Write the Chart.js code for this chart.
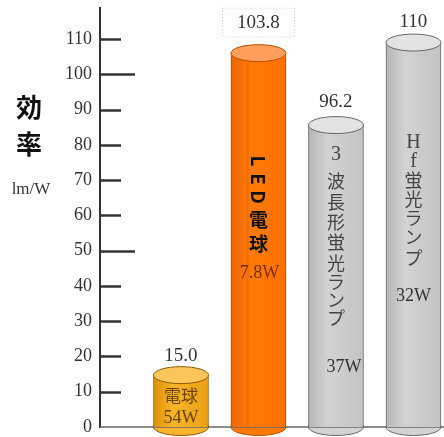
<!DOCTYPE html>
<html>
<head>
<meta charset="utf-8">
<script src="https://cdn.jsdelivr.net/npm/chart.js@4/dist/chart.umd.min.js"></script>
<style>
  html, body { margin: 0; padding: 0; background: #fff; }
  #wrap { width: 444px; height: 437px; }
</style>
</head>
<body>
<div id="wrap"><canvas id="chart"></canvas></div>
<script>
// データ
const categories = ['電球', 'LED電球', '3波長形蛍光ランプ', 'Hf蛍光ランプ'];
const wattLabels = ['54W', '7.8W', '37W', '32W'];
const valueLabels = ['15.0', '103.8', '96.2', '110'];
// 円柱の高さ（図に描かれている高さを読み取り）
const barHeights = [14.7, 106, 85.6, 109];
const yTicks = [0, 10, 20, 30, 40, 50, 60, 70, 80, 90, 100, 110];

const SERIF = '"Liberation Serif", "DejaVu Serif", "Noto Sans CJK JP", serif';
const CJK = '"Noto Sans CJK JP", sans-serif';

// 円柱の色
const bodyStops = [
  ['#E08F00', '#F8B52C', '#EBA015'],
  ['#EE6500', '#FF7A08', '#FF7000'],
  ['#B5B5B5', '#D3D3D3', '#C3C3C3'],
  ['#B5B5B5', '#D3D3D3', '#C3C3C3']
];
const topColors = ['#FDC65A', '#FF9E5A', '#E3E3E3', '#E3E3E3'];
const edgeColors = ['#8A5A00', '#B44E00', '#666666', '#666666'];
const RY = 8.5;

function bodyFill(ctx) {
  const chart = ctx.chart;
  const xs = chart.scales.x;
  const i = ctx.dataIndex;
  if (!chart.chartArea || !xs) return bodyStops[i][1];
  const cx = xs.getPixelForValue(i);
  const g = chart.ctx.createLinearGradient(cx - 27.5, 0, cx + 27.5, 0);
  g.addColorStop(0, bodyStops[i][0]);
  g.addColorStop(0.35, bodyStops[i][1]);
  g.addColorStop(1, bodyStops[i][2]);
  return g;
}

// 円柱の上下の楕円、目盛り、文字
const cylinderPlugin = {
  id: 'cylinder',
  beforeDatasetsDraw(chart) {
    const c = chart.ctx;
    const area = chart.chartArea;
    c.save();
    // 底の楕円
    chart.getDatasetMeta(0).data.forEach((bar, i) => {
      c.beginPath();
      c.ellipse(bar.x, bar.base, bar.width / 2, RY, 0, 0, Math.PI * 2);
      c.fillStyle = bodyStops[i][1];
      c.fill();
      c.lineWidth = 1;
      c.strokeStyle = edgeColors[i];
      c.stroke();
    });
    // 基線
    c.beginPath();
    c.moveTo(area.left, area.bottom);
    c.lineTo(chart.width, area.bottom);
    c.lineWidth = 1.5;
    c.strokeStyle = '#666';
    c.stroke();
    c.restore();
  },
  afterDatasetsDraw(chart) {
    const c = chart.ctx;
    const area = chart.chartArea;
    const ys = chart.scales.y;
    const meta = chart.getDatasetMeta(0);
    c.save();

    // LED 円柱の細い縦線
    const b1 = meta.data[1];
    c.beginPath();
    c.moveTo(b1.x - 10.5, b1.y);
    c.lineTo(b1.x - 10.5, b1.base);
    c.lineWidth = 1;
    c.strokeStyle = 'rgba(200,80,0,0.45)';
    c.stroke();

    // 上の楕円
    meta.data.forEach((bar, i) => {
      c.beginPath();
      c.ellipse(bar.x, bar.y, bar.width / 2, RY, 0, 0, Math.PI * 2);
      c.fillStyle = topColors[i];
      c.fill();
      c.lineWidth = 1;
      c.strokeStyle = edgeColors[i];
      c.stroke();
    });

    // 目盛り線（軸の右側）
    c.strokeStyle = '#333';
    c.lineWidth = 2.5;
    yTicks.forEach(v => {
      if (v === 0) return;
      const py = Math.round(ys.getPixelForValue(v)) + 0.5;
      const len = v % 50 === 0 ? 35 : 21;
      c.beginPath();
      c.moveTo(area.left, py);
      c.lineTo(area.left + len, py);
      c.stroke();
    });

    // 値ラベル
    const labelGap = [19, 30, 23, 21];
    c.textAlign = 'center';
    c.textBaseline = 'middle';
    c.fillStyle = '#333';
    c.font = '19px ' + SERIF;
    meta.data.forEach((bar, i) => {
      c.fillText(valueLabels[i], bar.x, bar.y - labelGap[i]);
    });

    // 103.8 の点線枠
    c.setLineDash([1, 2]);
    c.strokeStyle = '#ccc';
    c.lineWidth = 1;
    c.strokeRect(b1.x - 36, b1.y - 30 - 15, 72, 29);
    c.setLineDash([]);

    // 円柱内の文字
    const b0 = meta.data[0];
    c.fillStyle = '#6B4500';
    c.font = '17px ' + CJK;
    c.fillText(categories[0], b0.x, 396);
    c.font = '18px ' + SERIF;
    c.fillText(wattLabels[0], b0.x, 418);

    // LED電球（縦書き、太字）
    c.fillStyle = '#111';
    c.font = 'bold 19px ' + CJK;
    const ledY = [161, 179, 197, 220, 244];
    Array.from(categories[1]).forEach((ch, k) => {
      c.save();
      c.translate(b1.x, ledY[k]);
      if (/[A-Z]/.test(ch)) c.rotate(Math.PI / 2);
      c.fillText(ch, 0, 0);
      c.restore();
    });
    c.fillStyle = '#7A2E00';
    c.font = '18px ' + SERIF;
    c.fillText(wattLabels[1], b1.x + 1, 273);

    // 蛍光ランプ（縦書き）
    const vert = [
      { i: 2, ys: [155, 181, 202, 222, 242, 263, 282, 300, 318], wy: 367, wx: 8 },
      { i: 3, ys: [143, 162, 180, 199, 218, 237, 258], wy: 296, wx: 0 }
    ];
    vert.forEach(s => {
      const bar = meta.data[s.i];
      c.fillStyle = '#444';
      Array.from(categories[s.i]).forEach((ch, k) => {
        c.font = (/[0-9A-Za-z]/.test(ch) ? '20px ' + SERIF : '18px ' + CJK);
        c.fillText(ch, bar.x, s.ys[k]);
      });
      c.fillStyle = '#333';
      c.font = '18px ' + SERIF;
      c.fillText(wattLabels[s.i], bar.x + s.wx, s.wy);
    });

    // 縦軸の見出し
    c.fillStyle = '#111';
    c.font = 'bold 26px ' + CJK;
    c.fillText('効', 29, 107);
    c.fillText('率', 29, 144);
    c.fillStyle = '#333';
    c.font = '17px ' + SERIF;
    c.fillText('lm/W', 31, 190);

    c.restore();
  }
};

const ctx = document.getElementById('chart').getContext('2d');
new Chart(ctx, {
  type: 'bar',
  data: {
    datasets: [{
      data: barHeights.map((v, i) => ({ x: i, y: v })),
      backgroundColor: bodyFill,
      borderColor: edgeColors,
      borderWidth: { left: 1, right: 1, top: 0, bottom: 0 },
      borderSkipped: false,
      barThickness: 55
    }]
  },
  options: {
    animation: false,
    responsive: true,
    maintainAspectRatio: false,
    layout: { padding: { top: 8, bottom: 10, left: 0, right: 0 } },
    plugins: {
      legend: { display: false },
      tooltip: { enabled: false }
    },
    scales: {
      x: {
        type: 'linear',
        offset: false,
        min: -1.045,
        max: 3.394,
        display: false
      },
      y: {
        min: 0,
        max: 118.8,
        afterBuildTicks: s => { s.ticks = yTicks.map(v => ({ value: v })); },
        afterFit: s => { s.width = 100; s.paddingTop = 0; s.paddingBottom = 0; },
        grid: { display: false, drawTicks: false },
        border: { display: true, color: '#333', width: 2 },
        ticks: {
          padding: 8,
          color: '#333',
          font: { family: SERIF, size: 18 }
        }
      }
    }
  },
  plugins: [cylinderPlugin]
});
</script>
</body>
</html>
